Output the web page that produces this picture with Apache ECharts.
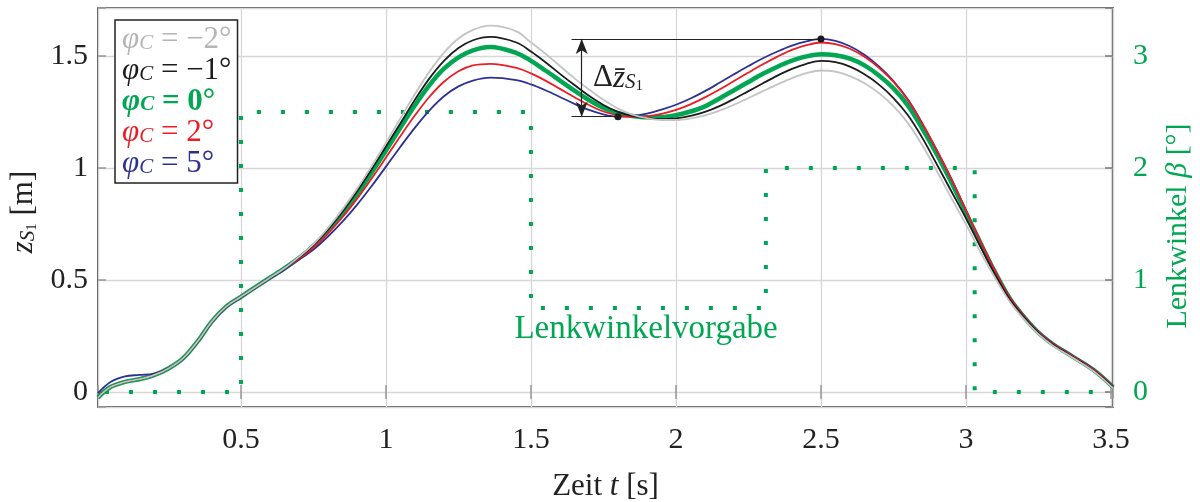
<!DOCTYPE html>
<html>
<head>
<meta charset="utf-8">
<script src="https://cdn.jsdelivr.net/npm/echarts@6/dist/echarts.min.js"></script>
<style>
  html, body { margin: 0; padding: 0; background: #fff; }
  #chart { width: 1200px; height: 502px; }
</style>
</head>
<body>
<div id="chart"></div>
<script>
// time samples [s]
var T = [0.007,0.05,0.1,0.15,0.2,0.25,0.3,0.35,0.4,0.45,0.5,0.55,0.6,0.65,
  0.7,0.75,0.8,0.85,0.9,0.95,1.0,1.05,1.1,1.15,1.2,1.25,1.3,1.36,
  1.45,1.5,1.55,1.6,1.65,1.7,1.75,
  1.8,1.85,1.9,1.95,2.0,2.05,2.1,2.15,2.2,2.25,2.3,2.35,2.4,2.45,2.5,
  2.55,2.6,2.65,2.7,2.75,2.8,2.85,
  2.9,2.95,3.0,3.05,3.1,3.15,3.2,3.25,3.3,3.35,3.4,3.45,3.507];

// z_S1 [m] for each phi_C
var zM2 = [-0.025,0.022,0.045,0.057,0.075,0.105,0.15,0.225,0.315,0.382,0.425,0.468,0.51,0.552,
  0.603,0.66,0.732,0.815,0.907,1.007,1.113,1.222,1.33,1.43,1.515,1.578,1.616,1.635,
  1.61,1.56,1.51,1.455,1.40,1.35,1.304,
  1.265,1.238,1.222,1.214,1.214,1.221,1.235,1.256,1.282,1.312,1.343,1.373,1.401,1.423,1.435,
  1.43,1.41,1.378,1.334,1.276,1.2,1.1,
  0.985,0.865,0.748,0.625,0.51,0.405,0.325,0.258,0.207,0.167,0.127,0.083,0.017];
var zM1 = [-0.025,0.022,0.045,0.057,0.075,0.105,0.15,0.225,0.315,0.382,0.425,0.468,0.51,0.552,
  0.6,0.656,0.725,0.805,0.895,0.993,1.096,1.2,1.305,1.4,1.478,1.535,1.57,1.585,
  1.56,1.52,1.472,1.42,1.37,1.322,1.281,
  1.25,1.232,1.222,1.218,1.221,1.232,1.25,1.276,1.308,1.343,1.378,1.412,1.442,1.465,1.478,
  1.472,1.452,1.418,1.372,1.312,1.235,1.133,
  1.015,0.895,0.775,0.648,0.525,0.415,0.333,0.263,0.211,0.17,0.13,0.086,0.02];
var z0 = [-0.025,0.022,0.045,0.057,0.075,0.105,0.15,0.225,0.315,0.382,0.425,0.468,0.51,0.552,
  0.598,0.652,0.718,0.795,0.883,0.978,1.078,1.18,1.28,1.37,1.443,1.494,1.525,1.54,
  1.513,1.478,1.435,1.39,1.345,1.303,1.268,
  1.245,1.232,1.226,1.227,1.236,1.252,1.275,1.31,1.347,1.384,1.42,1.452,1.479,1.498,1.508,
  1.503,1.488,1.458,1.413,1.355,1.278,1.175,
  1.06,0.935,0.80,0.665,0.535,0.42,0.335,0.265,0.213,0.172,0.132,0.088,0.022];
var zP2 = [-0.025,0.022,0.045,0.057,0.075,0.105,0.15,0.225,0.315,0.382,0.425,0.468,0.51,0.552,
  0.595,0.645,0.708,0.78,0.862,0.952,1.047,1.143,1.235,1.318,1.385,1.432,1.458,1.465,
  1.447,1.422,1.39,1.353,1.316,1.281,1.252,
  1.235,1.228,1.23,1.241,1.259,1.284,1.315,1.35,1.388,1.426,1.463,1.497,1.527,1.548,1.56,
  1.553,1.532,1.496,1.447,1.384,1.302,1.196,
  1.077,0.95,0.81,0.672,0.54,0.424,0.338,0.267,0.215,0.174,0.134,0.09,0.024];
var zP5 = [-0.005,0.045,0.07,0.076,0.082,0.107,0.148,0.222,0.312,0.379,0.422,0.465,0.506,0.546,
  0.59,0.636,0.694,0.76,0.835,0.918,1.006,1.095,1.18,1.257,1.32,1.364,1.39,1.403,
  1.392,1.373,1.347,1.317,1.286,1.259,1.239,
  1.229,1.231,1.242,1.26,1.282,1.31,1.343,1.38,1.418,1.455,1.49,1.52,1.546,1.565,1.576,
  1.567,1.543,1.505,1.453,1.388,1.305,1.198,
  1.078,0.95,0.81,0.672,0.54,0.424,0.339,0.269,0.217,0.176,0.136,0.092,0.026];

// steering input (Lenkwinkelvorgabe) beta [deg]
var steerT = [0.031,0.5,0.5,1.5,1.5,2.31,2.31,3.03,3.03,3.507];
var steerB = [0,0,2.5,2.5,0.75,0.75,2,2,0,0];

var FONT = "'Liberation Serif', 'DejaVu Serif', serif";
var GREEN = '#00a651';
var colors = { m2: '#c4c4c4', m1: '#1c1c1c', z: GREEN, p2: '#ed1c24', p5: '#2e3192' };

function pairs(xs, ys) {
  return xs.map(function (x, i) { return [x, ys[i]]; });
}
function isStep(v, s) {
  return Math.abs(v / s - Math.round(v / s)) < 1e-6;
}

// extremes of the 5 deg curve for the delta annotation
var lo = null, hi = null;
T.forEach(function (t, i) {
  if (t > 1.6 && t < 2.1 && (lo === null || zP5[i] < lo[1])) lo = [t, zP5[i]];
  if (t > 2.2 && t < 2.8 && (hi === null || zP5[i] > hi[1])) hi = [t, zP5[i]];
});

var chart = echarts.init(document.getElementById('chart'), null, { renderer: 'canvas' });

function curve(name, data, color, width) {
  return {
    name: name, type: 'line', data: pairs(T, data), smooth: 0.35,
    symbol: 'none', showSymbol: false, silent: true,
    lineStyle: { color: color, width: width }, itemStyle: { color: color }
  };
}

var labelNames = { m2: '\u22122\u00b0', m1: '\u22121\u00b0', z: '0\u00b0', p2: '2\u00b0', p5: '5\u00b0' };

var blueSeries = curve('p5', zP5, colors.p5, 1.8);
blueSeries.markLine = {
  silent: true, symbol: ['none', 'none'], animation: false,
  label: { show: false },
  lineStyle: { color: '#222', width: 1.2, type: 'solid' },
  data: [
    [{ coord: [1.64, hi[1]] }, { coord: [hi[0], hi[1]] }],
    [{ coord: [1.64, lo[1]] }, { coord: [lo[0], lo[1]] }],
    [{ coord: [1.675, lo[1]], symbol: 'arrow', symbolSize: [9, 15] },
     { coord: [1.675, hi[1]], symbol: 'arrow', symbolSize: [9, 15] }]
  ]
};
blueSeries.markPoint = {
  silent: true, animation: false,
  data: [
    { coord: lo, symbol: 'circle', symbolSize: 7, itemStyle: { color: '#1a1a1a' }, label: { show: false } },
    { coord: hi, symbol: 'circle', symbolSize: 7, itemStyle: { color: '#1a1a1a' }, label: { show: false } },
    { coord: [1.80, 1.40], symbol: 'circle', symbolSize: 1, itemStyle: { color: 'rgba(0,0,0,0)' },
      label: {
        show: true, position: 'inside', color: '#222', fontFamily: FONT,
        formatter: '{d|\u0394}{z|z\u0304}{s|S}{ss|1}',
        rich: {
          d: { fontSize: 31, fontFamily: FONT, lineHeight: 30 },
          z: { fontSize: 31, fontFamily: FONT, fontStyle: 'italic', lineHeight: 30 },
          s: { fontSize: 21, fontFamily: FONT, fontStyle: 'italic', lineHeight: 10, verticalAlign: 'bottom' },
          ss: { fontSize: 15, fontFamily: FONT, lineHeight: 4, verticalAlign: 'bottom' }
        }
      } }
  ]
};

var steer = {
  name: 'steer', type: 'line', yAxisIndex: 1, data: pairs(steerT, steerB),
  symbol: 'none', showSymbol: false, silent: true, smooth: false,
  lineStyle: { color: GREEN, width: 4, type: [4, 20], cap: 'butt' },
  markPoint: {
    silent: true, animation: false,
    data: [{ coord: [1.897, 0.56], symbol: 'circle', symbolSize: 1, itemStyle: { color: 'rgba(0,0,0,0)' },
      label: { show: true, position: 'inside', formatter: 'Lenkwinkelvorgabe',
        color: GREEN, fontFamily: FONT, fontSize: 33 } }]
  }
};

function richLegend(bold) {
  var w = bold ? 'bold' : 'normal';
  return {
    p: { fontSize: 31, fontFamily: FONT, fontStyle: 'italic', fontWeight: w, lineHeight: 28 },
    s: { fontSize: 21, fontFamily: FONT, fontStyle: 'italic', fontWeight: w, lineHeight: 10, verticalAlign: 'bottom' },
    t: { fontSize: 31, fontFamily: FONT, fontWeight: w, lineHeight: 28 }
  };
}
var legRich = richLegend(false);
var lr = richLegend(true);
legRich.pb = lr.p; legRich.sb = lr.s; legRich.tb = lr.t;

var option = {
  animation: false,
  backgroundColor: '#fff',
  grid: { left: 98, right: 87, top: 8, bottom: 95, show: true, borderColor: '#222', borderWidth: 1.5,
    containLabel: false, outerBoundsMode: 'none' },
  legend: {
    orient: 'vertical', left: 115, top: 20, icon: 'none', itemWidth: 0, itemHeight: 26, itemGap: 0,
    padding: [4, 6, 4, 2], backgroundColor: '#fff', borderColor: '#222', borderWidth: 1.5, borderRadius: 0,
    selectedMode: false,
    data: [
      { name: 'm2', textStyle: { color: '#b5b5b5' } },
      { name: 'm1', textStyle: { color: '#1c1c1c' } },
      { name: 'z', textStyle: { color: GREEN } },
      { name: 'p2', textStyle: { color: colors.p2 } },
      { name: 'p5', textStyle: { color: colors.p5 } }
    ],
    formatter: function (n) {
      if (n === 'z') return '{pb|\u03c6}{sb|C}{tb| = ' + labelNames[n] + '}';
      return '{p|\u03c6}{s|C}{t| = ' + labelNames[n] + '}';
    },
    textStyle: { fontFamily: FONT, fontSize: 31, rich: legRich }
  },
  xAxis: [{
    type: 'value', min: 0.007, max: 3.507, splitNumber: 7, position: 'bottom',
    name: '{n|Zeit }{i|t}{n| [s]}', nameLocation: 'middle', nameGap: 64,
    nameTextStyle: { color: '#222', rich: {
      n: { fontFamily: FONT, fontSize: 31 },
      i: { fontFamily: FONT, fontSize: 31, fontStyle: 'italic' } } },
    axisLine: { show: false },
    axisTick: { inside: true, length: 7, lineStyle: { color: '#999', width: 1.5 } },
    splitLine: { show: true, lineStyle: { color: '#d6d6d6', width: 1.3 } },
    axisLabel: { margin: 18, color: '#222', fontFamily: FONT, fontSize: 30,
      formatter: function (v) { return isStep(v, 0.5) ? String(+v.toFixed(2)) : ''; } }
  }, {
    type: 'value', min: 0.007, max: 3.507, splitNumber: 7, position: 'top',
    axisLine: { show: false }, axisLabel: { show: false }, splitLine: { show: false },
    axisTick: { inside: true, length: 7, lineStyle: { color: '#999', width: 1.5 } }
  }],
  yAxis: [{
    type: 'value', min: -0.067, max: 1.714, splitNumber: 4, position: 'left',
    name: '{i|z}{s|S}{ss|1}{n| [m]}', nameLocation: 'middle', nameGap: 56, nameRotate: 90,
    nameTextStyle: { color: '#222', padding: [0, 9, 0, 0], rich: {
      i: { fontFamily: FONT, fontSize: 31, fontStyle: 'italic', lineHeight: 30 },
      s: { fontFamily: FONT, fontSize: 21, fontStyle: 'italic', lineHeight: 10, verticalAlign: 'bottom' },
      ss: { fontFamily: FONT, fontSize: 15, lineHeight: 4, verticalAlign: 'bottom' },
      n: { fontFamily: FONT, fontSize: 31, lineHeight: 30 } } },
    axisLine: { show: false },
    axisTick: { inside: true, length: 8, lineStyle: { color: '#999', width: 1.5 } },
    splitLine: { show: true, lineStyle: { color: '#d6d6d6', width: 1.3 } },
    axisLabel: { margin: 10, color: '#222', fontFamily: FONT, fontSize: 30,
      formatter: function (v) { return isStep(v, 0.5) ? String(+v.toFixed(2)) : ''; } }
  }, {
    type: 'value', min: -0.134, max: 3.428, splitNumber: 4, position: 'right',
    name: '{n|Lenkwinkel }{i|\u03b2}{n| [\u00b0]}', nameLocation: 'middle', nameGap: 50, nameRotate: 90,
    nameTextStyle: { color: GREEN, padding: [0, 37, 0, 0], rich: {
      n: { fontFamily: FONT, fontSize: 30, color: GREEN },
      i: { fontFamily: FONT, fontSize: 30, fontStyle: 'italic', color: GREEN } } },
    axisLine: { show: false },
    axisTick: { inside: true, length: 8, lineStyle: { color: '#777', width: 1.5 } },
    splitLine: { show: false },
    axisLabel: { margin: 20, color: GREEN, fontFamily: FONT, fontSize: 30,
      formatter: function (v) { return isStep(v, 1) ? String(Math.round(v)) : ''; } }
  }],
  series: [
    steer,
    curve('z', z0, colors.z, 4.5),
    blueSeries,
    curve('p2', zP2, colors.p2, 1.8),
    curve('m1', zM1, colors.m1, 1.8),
    curve('m2', zM2, colors.m2, 1.8)
  ]
};

chart.setOption(option);
</script>
</body>
</html>
